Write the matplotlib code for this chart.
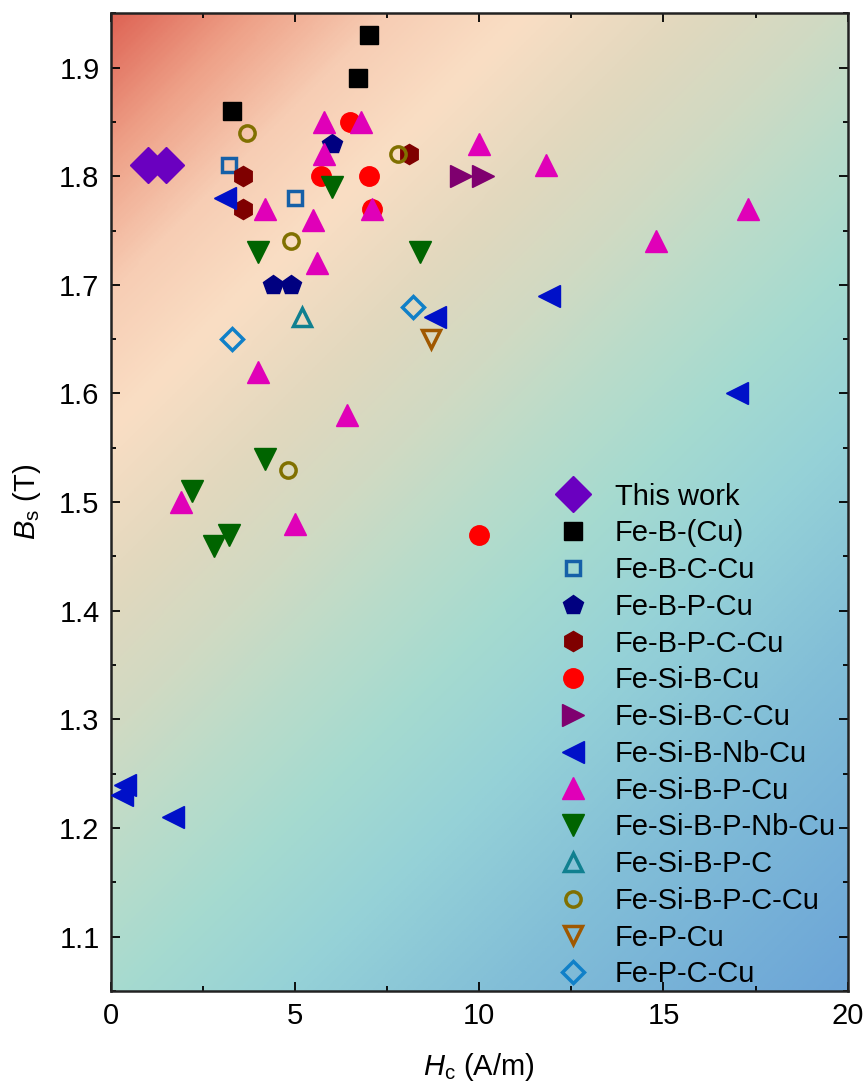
import numpy as np
import matplotlib
matplotlib.use("Agg")
import matplotlib.pyplot as plt
from matplotlib.colors import LinearSegmentedColormap

plt.rcParams['font.family'] = ['Liberation Sans', 'DejaVu Sans']
plt.rcParams['mathtext.fontset'] = 'custom'
plt.rcParams['mathtext.rm'] = 'Liberation Sans'
plt.rcParams['mathtext.it'] = 'Liberation Sans:italic'

# H_c (A/m) and B_s (T) for each alloy group
this_work_hc = [1.0, 1.5]
this_work_bs = [1.81, 1.81]
feb_hc = [7.0, 6.7, 3.3]
feb_bs = [1.93, 1.89, 1.86]
febc_hc = [3.2, 5.0]
febc_bs = [1.81, 1.78]
febp_hc = [6.0, 4.4, 4.9]
febp_bs = [1.83, 1.70, 1.70]
febpc_hc = [3.6, 3.6, 8.1]
febpc_bs = [1.80, 1.77, 1.82]
fesib_hc = [6.5, 5.7, 7.0, 7.1, 10.0]
fesib_bs = [1.85, 1.80, 1.80, 1.77, 1.47]
fesibc_hc = [9.5, 10.1]
fesibc_bs = [1.80, 1.80]
fesibnb_hc = [3.1, 8.8, 11.9, 17.0, 0.4, 0.3, 1.7]
fesibnb_bs = [1.78, 1.67, 1.69, 1.60, 1.24, 1.23, 1.21]
fesibp_hc = [5.8, 6.8, 5.8, 10.0, 11.8, 17.3, 4.2, 7.1, 5.5, 5.6, 14.8, 4.0, 6.4, 1.9, 5.0]
fesibp_bs = [1.85, 1.85, 1.82, 1.83, 1.81, 1.77, 1.77, 1.77, 1.76, 1.72, 1.74, 1.62, 1.58, 1.50, 1.48]
fesibpnb_hc = [6.0, 4.0, 8.4, 4.2, 2.2, 3.2, 2.8]
fesibpnb_bs = [1.79, 1.73, 1.73, 1.54, 1.51, 1.47, 1.46]
fesibpc_hc = [5.2]
fesibpc_bs = [1.67]
fesibpcc_hc = [3.7, 7.8, 4.9, 4.8]
fesibpcc_bs = [1.84, 1.82, 1.74, 1.53]
fepcu_hc = [8.7]
fepcu_bs = [1.65]
fepc_hc = [3.3, 8.2]
fepc_bs = [1.65, 1.68]

fig = plt.figure(figsize=(8.65, 10.84), dpi=100)
ax = fig.add_axes([0.128, 0.0858, 0.852, 0.902])

# diagonal background gradient, red top-left to blue bottom-right
bg = LinearSegmentedColormap.from_list('bg', [
    (0.0, '#de6455'), (0.08, '#eea087'), (0.16, '#f7cdb4'), (0.24, '#fadec4'),
    (0.34, '#e1d8be'), (0.42, '#d0dac3'), (0.5, '#b9dcca'), (0.58, '#a5dad0'),
    (0.67, '#96d2d7'), (0.8, '#82bed7'), (1.0, '#6ca5d7')])
u, w = np.meshgrid(np.linspace(0, 1, 300), np.linspace(0, 1, 400))
ax.imshow((u * 737 + w * 978) / 1715, cmap=bg, extent=[0, 20, 1.05, 1.95],
          origin='upper', aspect='auto', zorder=0, interpolation='bilinear')

def filled(x, y, m, c, ms, label):
    ax.plot(x, y, m, ms=ms, mfc=c, mec=c, mew=1, ls='none', label=label, zorder=3)

def hollow(x, y, m, c, ms, label):
    ax.plot(x, y, m, ms=ms, mfc='none', mec=c, mew=2.5, ls='none', label=label, zorder=3)

filled(this_work_hc, this_work_bs, 'D', '#6a00c0', 18.5, 'This work')
filled(feb_hc, feb_bs, 's', 'black', 12.5, 'Fe-B-(Cu)')
hollow(febc_hc, febc_bs, 's', '#1560a8', 9.5, 'Fe-B-C-Cu')
filled(febp_hc, febp_bs, 'p', '#000080', 15, 'Fe-B-P-Cu')
filled(febpc_hc, febpc_bs, 'h', '#7f0000', 14.5, 'Fe-B-P-C-Cu')
filled(fesib_hc, fesib_bs, 'o', '#ff0000', 14, 'Fe-Si-B-Cu')
filled(fesibc_hc, fesibc_bs, '>', '#7f006f', 15.5, 'Fe-Si-B-C-Cu')
filled(fesibnb_hc, fesibnb_bs, '<', '#0010c8', 15.5, 'Fe-Si-B-Nb-Cu')
filled(fesibp_hc, fesibp_bs, '^', '#e000b8', 15.5, 'Fe-Si-B-P-Cu')
filled(fesibpnb_hc, fesibpnb_bs, 'v', '#006400', 15.5, 'Fe-Si-B-P-Nb-Cu')
hollow(fesibpc_hc, fesibpc_bs, '^', '#108090', 13, 'Fe-Si-B-P-C')
hollow(fesibpcc_hc, fesibpcc_bs, 'o', '#807000', 11, 'Fe-Si-B-P-C-Cu')
hollow(fepcu_hc, fepcu_bs, 'v', '#a05800', 13, 'Fe-P-Cu')
hollow(fepc_hc, fepc_bs, 'D', '#1080c8', 11, 'Fe-P-C-Cu')

ax.set_xlim(0, 20)
ax.set_ylim(1.05, 1.95)
ax.set_xticks([0, 5, 10, 15, 20])
ax.set_xticks(np.arange(0, 20.1, 2.5), minor=True)
ax.set_yticks(np.arange(1.1, 1.95, 0.1))
ax.set_yticks(np.arange(1.05, 1.951, 0.05), minor=True)
ax.set_yticklabels(['%.1f' % v for v in np.arange(1.1, 1.95, 0.1)])
ax.tick_params(which='both', direction='in', top=True, right=True, width=1.3,
               labelsize=21, pad=8)
ax.tick_params(which='major', length=6.5)
ax.tick_params(which='minor', length=3.5)
for s in ax.spines.values():
    s.set_linewidth(1.8)
    s.set_color('#222222')

ax.set_xlabel(r'$\mathit{H}_\mathrm{c}$ (A/m)', fontsize=21, labelpad=15)
ax.set_ylabel(r'$\mathit{B}_\mathrm{s}$ (T)', fontsize=21, labelpad=12)

ax.legend(loc='upper left', bbox_to_anchor=(0.605, 0.52), frameon=False,
          fontsize=21, borderpad=0, handlelength=1.1, handletextpad=0.9,
          labelspacing=0.3, numpoints=1, borderaxespad=0)

fig.savefig('out.png', dpi=100)
